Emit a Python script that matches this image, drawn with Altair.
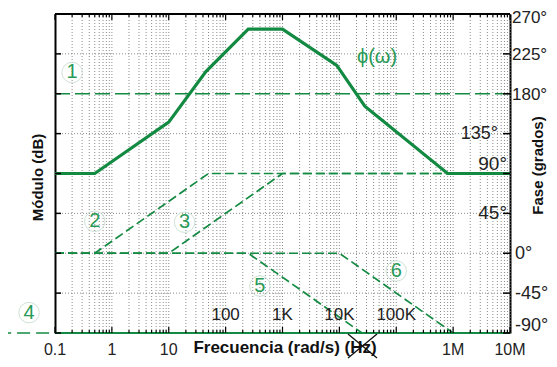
import altair as alt
import pandas as pd

W, H = 455, 319
GREEN = "#138a42"
LBL_GREEN = "#2a9a57"
FONT = "Liberation Sans"

# ---- data ----
# asymptotic components (frequency in rad/s, phase in degrees)
l1_f = [0.1, 1e7];                  l1_p = [180, 180]
l2_f = [0.1, 0.5, 50, 1e7];         l2_p = [0, 0, 90, 90]
l3_f = [0.1, 10, 1000, 1e7];        l3_p = [0, 0, 90, 90]
l4_f = [0.01, 1e7];                 l4_p = [-90, -90]
l5_f = [0.1, 250, 25000, 1e7];      l5_p = [0, 0, -90, -90]
l6_f = [0.1, 10000, 1e6, 1e7];      l6_p = [0, 0, -90, -90]
# total phase phi(w)
phi_f = [0.1, 0.5, 10, 45, 250, 1000, 9000, 28000, 8e5, 1e7]
phi_p = [90, 90, 148, 205, 253, 253, 212, 166, 90, 90]

# numbered circle labels
num_txt = ["1", "2", "3", "4", "5", "6"]
num_f = [0.2, 0.5, 19, 0.035, 400, 1e5]
num_p = [204, 36, 35, -67, -37, -20]

# axis ticks / labels
x_label_vals = [0.1, 1, 10, 1e6, 1e7]
x_label_txt = ["0.1", "1", "10", "1M", "10M"]
x_inner_vals = [100, 1000, 1e4, 1e5]
x_inner_txt = ["100", "1K", "10K", "100K"]
decades = [0.1, 1, 10, 100, 1e3, 1e4, 1e5, 1e6, 1e7]
phase_ticks = [-90, -45, 0, 45, 90, 135, 180, 225, 270]
right_wide_vals = [225, 180]
right_wide_txt = ["225°", "180°"]
right_out_vals = [0, -45]
right_out_txt = ["0°", "-45°"]
x_title = "Frecuencia (rad/s) (Hz)"

minor_f = [d * m for d in decades[:-1] for m in range(2, 10)]
grid_f = minor_f + decades[1:]

xs = alt.Scale(type="log", domain=[0.1, 1e7])
ys = alt.Scale(domain=[-90, 270], nice=False, zero=False)


def X():
    return alt.X("f:Q", scale=xs, axis=None)


def Y(axis=None):
    return alt.Y("p:Q", scale=ys, axis=axis)


one = pd.DataFrame({"a": [0]})

layers = []

# grid
layers.append(alt.Chart(pd.DataFrame({"f": grid_f})).mark_rule(
    color="#8c8c8c", strokeWidth=1, strokeDash=[1, 2]).encode(x=X()))
layers.append(alt.Chart(pd.DataFrame({"p": [-45, 0, 45, 135, 225]})).mark_rule(
    color="#8c8c8c", strokeWidth=1, strokeDash=[1, 2]).encode(y=Y()))

# asymptotic dashed lines
for fl, pl, dash in [(l1_f, l1_p, [15, 5]), (l2_f, l2_p, [9, 4]), (l3_f, l3_p, [9, 4]),
                     (l4_f, l4_p, [13, 6]), (l5_f, l5_p, [9, 4]), (l6_f, l6_p, [9, 4])]:
    df = pd.DataFrame({"f": fl, "p": pl, "i": list(range(len(fl)))})
    layers.append(alt.Chart(df).mark_line(color=GREEN, strokeWidth=1.7, strokeDash=dash).encode(
        x=X(), y=Y(), order="i:Q"))

# bottom frame line (green) inside the plot
layers.append(alt.Chart(one).mark_rule(color=GREEN, strokeWidth=2).encode(
    x=alt.value(0), x2=alt.value(W), y=alt.value(H)))

# total phase (carries the left axis)
phi_df = pd.DataFrame({"f": phi_f, "p": phi_p, "i": list(range(len(phi_f)))})
layers.append(alt.Chart(phi_df).mark_line(color=GREEN, strokeWidth=3.2).encode(
    x=X(),
    y=Y(alt.Axis(values=phase_ticks, labels=False, ticks=False, grid=False,
                 domainColor="black", domainWidth=2, orient="left",
                 title="Módulo (dB)", titleFontSize=15, titleFontWeight="bold", titleFont=FONT,
                 titleColor="#111", titleAngle=-90, titleBaseline="middle", titleX=-18, titleY=163)),
    order="i:Q"))

# right axis (title + frame line) with inward ticks
ph_df = pd.DataFrame({"p": phase_ticks})
layers.append(alt.Chart(ph_df).mark_rule(color="black", strokeWidth=1.5).encode(
    y=Y(alt.Axis(orient="right", values=phase_ticks, labels=False, ticks=False, grid=False,
                 domainColor="black", domainWidth=2,
                 title="Fase (grados)", titleFontSize=15, titleFontWeight="bold", titleFont=FONT,
                 titleColor="#111", titleAngle=-90, titleBaseline="middle", titleX=27, titleY=151)),
    x=alt.value(W - 7), x2=alt.value(W)))
layers.append(alt.Chart(ph_df).mark_rule(color="black", strokeWidth=1.5).encode(
    y=Y(), x=alt.value(0), x2=alt.value(6)))

# top frame
layers.append(alt.Chart(one).mark_rule(color="black", strokeWidth=2).encode(
    x=alt.value(0), x2=alt.value(W), y=alt.value(0)))

# top / bottom inward log ticks
dec_df = pd.DataFrame({"f": decades})
min_df = pd.DataFrame({"f": minor_f})
for df, ln in [(dec_df, 6), (min_df, 3)]:
    layers.append(alt.Chart(df).mark_rule(color="black", strokeWidth=1.2).encode(
        x=X(), y=alt.value(0), y2=alt.value(ln)))
    layers.append(alt.Chart(df).mark_rule(color="black", strokeWidth=1.2).encode(
        x=X(), y=alt.value(H), y2=alt.value(H - ln)))

# frequency labels below the plot
layers.append(alt.Chart(pd.DataFrame({"f": x_label_vals, "t": x_label_txt})).mark_text(
    fontSize=16, color="#222", font=FONT, baseline="middle").encode(
    x=X(), y=alt.value(H + 17), text="t:N"))
# axis title
layers.append(alt.Chart(pd.DataFrame({"t": [x_title]})).mark_text(
    fontSize=17, fontWeight="bold", color="#111", font=FONT, baseline="alphabetic").encode(
    x=alt.value(230), y=alt.value(H + 20), text="t:N"))
# cross over "(Hz)"
layers.append(alt.Chart(one).mark_rule(color="#111", strokeWidth=1.3).encode(
    x=alt.value(293), x2=alt.value(322), y=alt.value(H + 1), y2=alt.value(H + 25)))
layers.append(alt.Chart(one).mark_rule(color="#111", strokeWidth=1.3).encode(
    x=alt.value(293), x2=alt.value(322), y=alt.value(H + 25), y2=alt.value(H + 1)))

# frequency labels inside plot
layers.append(alt.Chart(pd.DataFrame({"f": x_inner_vals, "t": x_inner_txt})).mark_text(
    fontSize=17, color="#222", font=FONT, baseline="middle").encode(
    x=X(), y=alt.value(301), text="t:N"))

# phase labels on the right
layers.append(alt.Chart(pd.DataFrame({"p": right_wide_vals, "t": right_wide_txt})).mark_text(
    fontSize=17, color="#222", font=FONT, align="left", baseline="middle", dy=1).encode(
    y=Y(), x=alt.value(W + 2), text="t:N"))
layers.append(alt.Chart(pd.DataFrame({"p": right_out_vals, "t": right_out_txt})).mark_text(
    fontSize=18, color="#222", font=FONT, align="left", baseline="middle", dy=1).encode(
    y=Y(), x=alt.value(W + 5), text="t:N"))
layers.append(alt.Chart(pd.DataFrame({"p": [270], "t": ["270°"]})).mark_text(
    fontSize=17, color="#222", font=FONT, align="left", baseline="middle", dy=4).encode(
    y=Y(), x=alt.value(W + 2), text="t:N"))
layers.append(alt.Chart(pd.DataFrame({"p": [-90], "t": ["-90°"]})).mark_text(
    fontSize=18, color="#222", font=FONT, align="left", baseline="middle", dy=-7).encode(
    y=Y(), x=alt.value(W + 5), text="t:N"))
layers.append(alt.Chart(pd.DataFrame({"p": [135], "t": ["135°"]})).mark_text(
    fontSize=18, color="#222", font=FONT, align="right", baseline="middle").encode(
    y=Y(), x=alt.value(W - 12), text="t:N"))
layers.append(alt.Chart(pd.DataFrame({"p": [45], "t": ["45°"]})).mark_text(
    fontSize=19, color="#222", font=FONT, align="right", baseline="middle").encode(
    y=Y(), x=alt.value(W - 3), text="t:N"))
layers.append(alt.Chart(pd.DataFrame({"p": [90], "t": ["90°"]})).mark_text(
    fontSize=19, color="#222", font=FONT, align="right", baseline="middle", dy=-10).encode(
    y=Y(), x=alt.value(W - 3), text="t:N"))

# numbered circles
num_df = pd.DataFrame({"f": num_f, "p": num_p, "t": num_txt})
layers.append(alt.Chart(num_df).mark_point(shape="circle", size=420, filled=False,
                                            color="#cfe2d6", strokeWidth=1, opacity=1).encode(
    x=X(), y=Y()))
layers.append(alt.Chart(num_df).mark_text(fontSize=20, color=LBL_GREEN, font=FONT,
                                           baseline="middle").encode(x=X(), y=Y(), text="t:N"))

# phi(w) label
layers.append(alt.Chart(pd.DataFrame({"f": [46000], "p": [221], "t": ["ϕ(ω)"]})).mark_text(
    fontSize=20, color=LBL_GREEN, font=FONT, baseline="middle").encode(x=X(), y=Y(), text="t:N"))

chart = alt.layer(*layers).resolve_axis(y="independent").properties(
    width=W, height=H,
    autosize=alt.AutoSizeParams(type="none"),
    padding={"left": 47, "top": 6, "right": 39, "bottom": 26},
).configure_view(stroke=None).configure(font=FONT)

chart.save("out.html", embed_options={"renderer": "svg", "actions": False})
